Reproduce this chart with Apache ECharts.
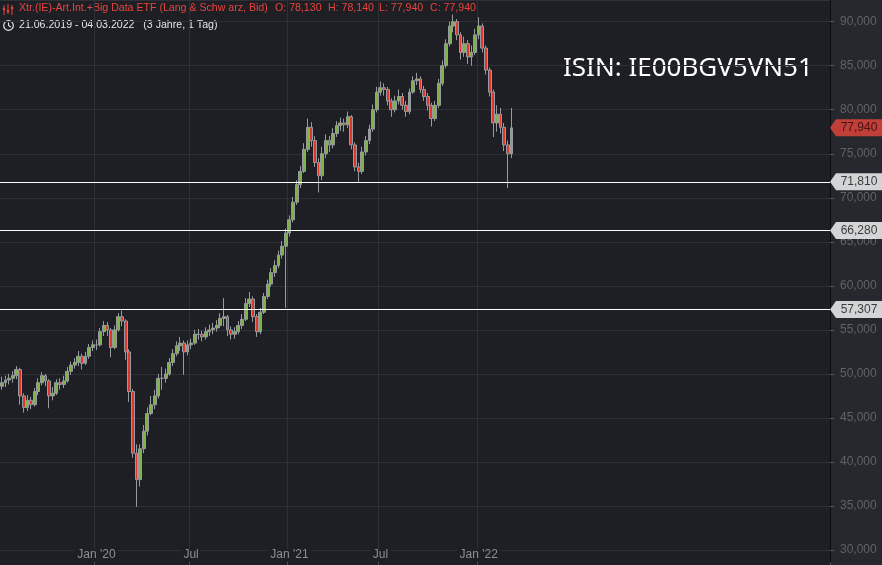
<!DOCTYPE html>
<html><head><meta charset="utf-8">
<script src="https://cdn.jsdelivr.net/npm/echarts@6/dist/echarts.min.js"></script>
<style>html,body{margin:0;padding:0;background:#26282d}#c{width:882px;height:565px}</style>
</head><body><div id="c"></div>
<script>
// ---- data (weekly candles, week ending Friday) ----
const firstWeekEnd = '2019-07-05';
const weekCount = 228; // axis length incl. empty future weeks
const opens = [
48600,49000,49300,49500,49800,50500,47500,46200,47000,46500,
48000,49000,49800,49200,47500,47800,49000,48800,49200,50300,
51000,51300,52000,51200,52000,53000,53300,53300,54800,55500,
55000,53000,55000,56500,56000,52500,48000,41000,38000,41500,
43500,45500,46500,47500,49500,49500,50000,51300,52300,53200,
53500,52500,53300,53500,54500,54500,54200,54800,55000,55200,
55500,56300,56500,55000,54500,54800,55500,56200,58000,58500,
56500,54800,57000,58800,60200,61500,62300,63500,64500,66000,
67500,69500,71500,73000,75500,78000,76500,74000,72500,75000,
76500,76000,77300,78200,78500,78300,79200,76000,73500,73000,
75200,76500,77800,80000,82000,82500,82300,81000,80000,81000,
81500,80500,79800,82000,83300,83500,82300,81500,80500,79000,
80500,83000,85000,87500,89500,90000,88500,86500,87500,86000,
86500,88500,89500,87000,84500,82000,78500,79500,78000,76000,
75000];
const closes = [
49000,49300,49500,49800,50500,47500,46200,47000,46500,48000,
49000,49800,49200,47500,47800,49000,48800,49200,50300,51000,
51300,52000,51200,52000,53000,53300,53300,54800,55500,55000,
53000,55000,56500,56000,52500,48000,41000,38000,41500,43500,
45500,46500,47500,49500,49500,50000,51300,52300,53200,53500,
52500,53300,53500,54500,54500,54200,54800,55000,55200,55500,
56300,56500,55000,54500,54800,55500,56200,58000,58500,56500,
54800,57000,58800,60200,61500,62300,63500,64500,66000,67500,
69500,71500,73000,75500,78000,76500,74000,72500,75000,76500,
76000,77300,78200,78500,78300,79200,76000,73500,73000,75200,
76500,77800,80000,82000,82500,82300,81000,80000,81000,81500,
80500,79800,82000,83300,83500,82300,81500,80500,79000,80500,
83000,85000,87500,89500,90000,88500,86500,87500,86000,86500,
88500,89500,87000,84500,82000,78500,79500,78000,76000,75000,
77940];
const lows = [
48200,48500,48800,49000,49400,46500,45600,45800,46000,46300,
47600,48700,48600,46100,47000,47600,48200,48400,49000,49900,
50600,50900,50500,51000,51700,52600,52700,53100,54300,54300,
51900,52800,54800,55400,51600,46800,40500,34900,37200,41000,
43000,45300,46000,47200,48200,49000,49800,50900,52000,52600,
49900,52100,52800,53300,53900,53700,53900,54300,54500,54800,
55200,55400,54300,53900,54000,54500,55100,56000,57600,55900,
54200,54500,56800,58500,59900,61000,62000,63100,57500,65600,
67200,69200,71100,72800,75200,75800,73500,70600,72000,74500,
75200,75600,76900,77600,77500,77900,75500,73000,71800,72700,
74800,76100,77500,79700,81600,81600,80500,79200,79700,80600,
80000,79200,79500,81800,82800,81900,81000,79900,78100,78700,
80200,82700,84700,87200,88800,87900,85700,86000,85200,85000,
86200,88000,86500,84000,81500,76900,77500,77300,75300,71100,
74500];
const highs = [
49700,49800,50000,50300,50900,50700,47800,47600,47400,48400,
49500,50200,50000,49400,48500,49400,49500,49800,50800,51400,
51800,52600,52300,52500,53400,53800,53900,55200,56000,55900,
55200,55500,56900,57200,56200,52800,48300,42000,42000,44200,
46200,47500,48200,50000,50800,50600,51800,52800,53700,54200,
53800,53800,54000,55000,55100,54900,55300,55600,55800,56100,
56900,58600,56700,55400,55300,56000,56800,58600,59300,58800,
56800,57500,59200,60700,62000,62900,64000,65100,66500,68000,
70100,72000,73600,76200,79000,78600,77000,74500,75800,77200,
77000,77900,78700,79100,79000,79800,79400,76300,74000,75800,
77000,78300,80600,82600,83200,83000,82600,81300,81600,82300,
81900,81000,82400,83800,84200,83800,82700,81900,80800,81000,
83500,85600,88000,90000,90800,90300,88800,88300,87900,87300,
89200,90500,89800,87300,84800,82300,80500,80200,78500,76500,
80200];
const levels = [71810, 66280, 57307];
const lastPrice = 77940;
const xTickLabels = {'2020-01-03':"Jan '20", '2020-07-03':'Jul', '2021-01-08':"Jan '21", '2021-07-02':'Jul', '2022-01-07':"Jan '22"};
const headerTitle = 'Xtr.(IE)-Art.Int.+Big Data ETF (Lang & Schw arz, Bid)';
const headerOHLC = ['O: 78,130', 'H: 78,140', 'L: 77,940', 'C: 77,940'];
const headerRange = '21.06.2019 - 04.03.2022   (3 Jahre, 1 Tag)';
const isinText = 'ISIN: IE00BGV5VN51';

// ---- build ----
const categories = [];
const t0 = Date.parse(firstWeekEnd + 'T00:00:00Z');
for (let i = 0; i < weekCount; i++) categories.push(new Date(t0 + i * 7 * 86400000).toISOString().slice(0, 10));
const candles = opens.map((o, i) => [o, closes[i], lows[i], highs[i]]);
const fmt = v => String(Math.round(v)).replace(/\B(?=(\d{3})+(?!\d))/g, ',');
const isMark = (idx, val) => Object.prototype.hasOwnProperty.call(xTickLabels, val);
const YMIN = 28300, YMAX = 92460;
const FONT = '"Liberation Sans", Arial, sans-serif';
const red = '#e8453c';

const chart = echarts.init(document.getElementById('c'), null, {renderer: 'canvas'});
const ohlcX = [275, 328, 379, 430];
chart.setOption({
  animation: false,
  backgroundColor: '#26282d',
  grid: [
    {left: 0, right: 52, top: 0, bottom: 0, show: true, backgroundColor: '#1d1f24', borderWidth: 0, outerBoundsMode: 'none'},
    {left: 830, right: 0, top: 0, bottom: 0, outerBoundsMode: 'none'}
  ],
  xAxis: [
    {type: 'category', gridIndex: 0, data: categories, boundaryGap: true,
     axisLine: {show: false},
     axisTick: {show: true, inside: true, length: 3, interval: isMark, lineStyle: {color: '#4a4c51'}},
     axisLabel: {inside: true, margin: 4, interval: isMark, formatter: v => xTickLabels[v] || '',
                 color: '#8d8f94', fontSize: 12, fontFamily: FONT, backgroundColor: '#1d1f24', padding: [0, 2]},
     splitLine: {show: true, interval: isMark, lineStyle: {color: '#2e3035', width: 1}}},
    {type: 'value', gridIndex: 1, min: 0, max: 1, show: false}
  ],
  yAxis: [
    {type: 'value', gridIndex: 0, position: 'right', min: YMIN, max: YMAX, splitNumber: 12,
     axisLine: {show: true, lineStyle: {color: '#0b0b0c', width: 1}},
     axisTick: {show: true, length: 4, lineStyle: {color: '#55575c'}},
     axisLabel: {margin: 10, color: '#606267', fontSize: 12, fontFamily: FONT, formatter: fmt, showMinLabel: false, showMaxLabel: false},
     splitLine: {show: true, lineStyle: {color: '#2e3035', width: 1}}},
    {type: 'value', gridIndex: 1, min: YMIN, max: YMAX, show: false}
  ],
  series: [
    {type: 'candlestick', xAxisIndex: 0, yAxisIndex: 0, data: candles, barWidth: 3.4, silent: true,
     itemStyle: {color: '#7cb342', color0: '#e0352b', borderColor: '#979a9e', borderColor0: '#979a9e', borderWidth: 1},
     markLine: {silent: true, symbol: ['none', 'none'], label: {show: false},
                lineStyle: {color: '#ffffff', width: 1, type: 'solid'},
                data: levels.map(v => ({yAxis: v}))}},
    {type: 'scatter', xAxisIndex: 1, yAxisIndex: 1, silent: true, z: 10,
     symbol: 'path://M0,8.5L6,0L52,0L52,17L6,17Z', symbolSize: [52, 17], symbolOffset: [26, 0],
     label: {show: true, position: 'inside', offset: [3, 0], formatter: p => fmt(p.value[1]), fontSize: 12, fontFamily: FONT},
     data: levels.map(v => ({value: [0, v], itemStyle: {color: '#ffffff'}, label: {color: '#111111'}}))
       .concat([{value: [0, lastPrice], itemStyle: {color: red}, label: {color: '#2a0606'}}])}
  ],
  graphic: [
    // indicator icon
    {type: 'line', shape: {x1: 4, y1: 5, x2: 4, y2: 15}, style: {stroke: red, lineWidth: 1}},
    {type: 'line', shape: {x1: 8, y1: 4, x2: 8, y2: 14}, style: {stroke: red, lineWidth: 1}},
    {type: 'line', shape: {x1: 12, y1: 5, x2: 12, y2: 15}, style: {stroke: red, lineWidth: 1}},
    {type: 'circle', shape: {cx: 4, cy: 9, r: 1.3}, style: {fill: red}},
    {type: 'circle', shape: {cx: 8, cy: 11, r: 1.3}, style: {fill: red}},
    {type: 'circle', shape: {cx: 12, cy: 8, r: 1.3}, style: {fill: red}},
    {type: 'text', left: 19, top: 3, style: {text: headerTitle, fill: red, font: '10.6px ' + FONT}},
    ...headerOHLC.map((t, i) => ({type: 'text', left: ohlcX[i], top: 3, style: {text: t, fill: red, font: '10.6px ' + FONT}})),
    // clock icon
    {type: 'circle', shape: {cx: 8.5, cy: 25.5, r: 4.8}, style: {fill: 'none', stroke: '#e6e6e6', lineWidth: 1.2}},
    {type: 'polyline', shape: {points: [[8.5, 22.5], [8.5, 25.5], [10.8, 27]]}, style: {fill: 'none', stroke: '#e6e6e6', lineWidth: 1.1}},
    {type: 'text', left: 19, top: 20, style: {text: headerRange, fill: '#e6e6e6', font: '10.6px ' + FONT}},
    {type: 'text', left: 563, top: 56, style: {text: isinText, fill: '#ffffff', font: '26px "Noto Sans", "Open Sans", sans-serif'}}
  ]
});
</script></body></html>
